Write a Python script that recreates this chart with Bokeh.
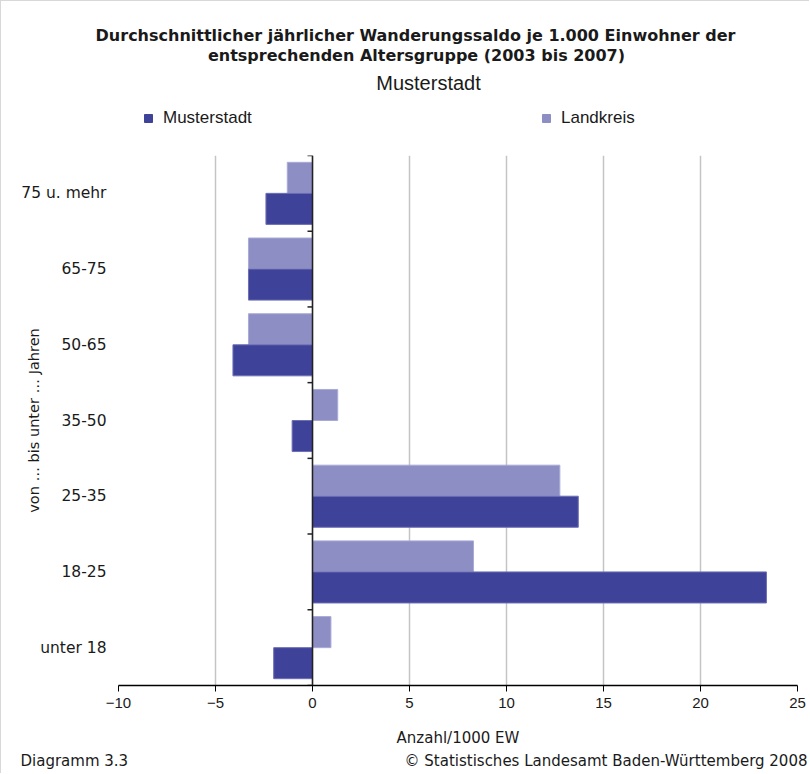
import math
from bokeh.plotting import figure
from bokeh.layouts import column
from bokeh.models import (Range1d, FixedTicker, Legend, LegendItem, Label, Span,
                          ColumnDataSource)
from bokeh.transform import dodge
from bokeh.embed import file_html
from bokeh.resources import INLINE

# ---- data ----
categories = ["unter 18", "18-25", "25-35", "35-50", "50-65", "65-75", "75 u. mehr"]
musterstadt = [-2.0, 23.4, 13.7, -1.05, -4.1, -3.3, -2.4]
landkreis = [0.95, 8.3, 12.75, 1.3, -3.3, -3.3, -1.3]
x_ticks = [-10, -5, 0, 5, 10, 15, 20, 25]
x_tick_labels = ["\u221210", "\u22125", "0", "5", "10", "15", "20", "25"]

title_line1 = "Durchschnittlicher jährlicher Wanderungssaldo je 1.000 Einwohner der"
title_line2 = "entsprechenden Altersgruppe (2003 bis 2007)"
subtitle = "Musterstadt"
x_label = "Anzahl/1000 EW"
y_label = "von … bis unter … Jahren"
footer_left = "Diagramm 3.3"
footer_right = "© Statistisches Landesamt Baden-Württemberg 2008"

C_M = "#3f4299"
C_L = "#8c8ec4"
TXT = "#1a1a1a"

VERDANA = "DejaVu Sans"
NARROW = "'Liberation Sans Narrow', 'Liberation Sans', sans-serif"
HELV = "'Liberation Sans', sans-serif"

# ---- layout geometry (pixels) ----
W = 808
HEAD_H, MAIN_H, FOOT_H = 154, 594, 24
FRAME_L, FRAME_R = 117, 796          # frame edges on the main canvas
FRAME_B = 531                        # frame bottom on the main canvas

n = len(categories)
centers = [i + 0.5 for i in range(n)]
bounds = list(range(n + 1))

src = ColumnDataSource(dict(pos=centers, m=musterstadt, l=landkreis))


def no_align(f):
    try:
        f.frame_align = False
    except Exception:
        pass


def bare_fig(h, x_range=(0, 1), y_range=(0, 1)):
    f = figure(width=W, height=h, x_range=Range1d(*x_range), y_range=Range1d(*y_range),
               output_backend="svg", toolbar_location=None,
               x_axis_location=None, y_axis_location=None, min_border=0)
    f.outline_line_color = None
    f.grid.visible = False
    no_align(f)
    return f


def lab(f, text, x, y, font, size, style="normal", align="center"):
    f.add_layout(Label(x=x, y=y, x_units="canvas", y_units="canvas", text=text,
                       text_font=font, text_font_size=size, text_font_style=style,
                       text_align=align, text_baseline="middle", text_color=TXT))


# ---- header: titles and legend ----
# (its ranges lie outside the data, so the swatch renderers draw nothing visible)
head = bare_fig(HEAD_H, x_range=(100, 101), y_range=(100, 101))
lab(head, title_line1, 414, 34, VERDANA, "16px", "bold")
lab(head, title_line2, 415, 54, VERDANA, "16px", "bold")
lab(head, subtitle, 427, 81, HELV, "20px")

sw_m = head.hbar(y="pos", right="m", left=0, height=0.4, source=src,
                 fill_color=C_M, line_color=C_M)
sw_l = head.hbar(y="pos", right="l", left=0, height=0.4, source=src,
                 fill_color=C_L, line_color=C_L)
legend = Legend(items=[LegendItem(label="Musterstadt", renderers=[sw_m]),
                       LegendItem(label="Landkreis", renderers=[sw_l])],
                orientation="horizontal", location=(142, 27),
                glyph_width=10, glyph_height=10, label_width=378, spacing=0,
                padding=0, margin=0, label_standoff=10,
                border_line_color=None, background_fill_alpha=0,
                label_text_font=HELV, label_text_font_size="17px",
                label_text_color=TXT, label_height=18)
head.add_layout(legend, "center")

# ---- main chart ----
p = figure(width=W, height=MAIN_H, y_range=Range1d(0, n),
           x_range=Range1d(-10, 25), output_backend="svg", toolbar_location=None,
           min_border_left=FRAME_L, min_border_right=W - FRAME_R,
           min_border_top=0, min_border_bottom=MAIN_H - FRAME_B)
p.outline_line_color = None
no_align(p)

p.xgrid.grid_line_color = "#c4c4c4"
p.xgrid.grid_line_width = 1.5
p.xgrid.ticker = FixedTicker(ticks=x_ticks)
p.ygrid.grid_line_color = None

r_l = p.hbar(y=dodge("pos", 0.205), right="l", left=0, height=0.41,
             source=src, fill_color=C_L, line_color="#a9abd6", line_width=1)
r_m = p.hbar(y=dodge("pos", -0.205), right="m", left=0, height=0.41,
             source=src, fill_color=C_M, line_color="#6d6fb5", line_width=1)

# zero line with ticks at the band boundaries
p.add_layout(Span(location=0, dimension="height", line_color="#222222", line_width=1.5))
p.ray(x=0, y=bounds, length=5, length_units="screen", angle=math.pi,
      line_color="#222222", line_width=1.5)

# x axis
xa = p.xaxis[0]
xa.ticker = FixedTicker(ticks=x_ticks)
xa.major_label_overrides = {t: s for t, s in zip(x_ticks, x_tick_labels)}
xa.axis_line_color = "black"
xa.axis_line_width = 1.5
xa.major_tick_line_color = "black"
xa.major_tick_out = 6
xa.major_tick_in = 0
xa.minor_tick_line_color = None
xa.major_label_text_font = NARROW
xa.major_label_text_font_size = "15px"
xa.major_label_text_color = TXT
xa.major_label_standoff = 6
xa.axis_label = x_label
xa.axis_label_text_font = VERDANA
xa.axis_label_text_font_size = "15px"
xa.axis_label_text_font_style = "normal"
xa.axis_label_text_color = TXT
xa.axis_label_standoff = 18

# y axis (category labels)
ya = p.yaxis[0]
ya.ticker = FixedTicker(ticks=centers)
ya.major_label_overrides = {c: s for c, s in zip(centers, categories)}
ya.axis_line_color = None
ya.major_tick_line_color = None
ya.major_tick_out = 0
ya.major_tick_in = 0
ya.minor_tick_line_color = None
ya.major_label_text_font = VERDANA
ya.major_label_text_font_size = "15.5px"
ya.major_label_text_color = TXT
ya.major_label_standoff = 12
ya.axis_label = y_label
ya.axis_label_text_font = VERDANA
ya.axis_label_text_font_size = "14.5px"
ya.axis_label_text_font_style = "normal"
ya.axis_label_text_color = TXT
ya.axis_label_standoff = -24

# ---- footer ----
foot = bare_fig(FOOT_H)
lab(foot, footer_left, 19, 11, VERDANA, "15px", align="left")
lab(foot, footer_right, 806, 11, VERDANA, "15px", align="right")

page = column(head, p, foot, spacing=0,
              styles={"border-left": "1px solid #d8d8d8", "border-top": "1px solid #d8d8d8"})

open("out.html", "w").write(file_html(page, INLINE))
